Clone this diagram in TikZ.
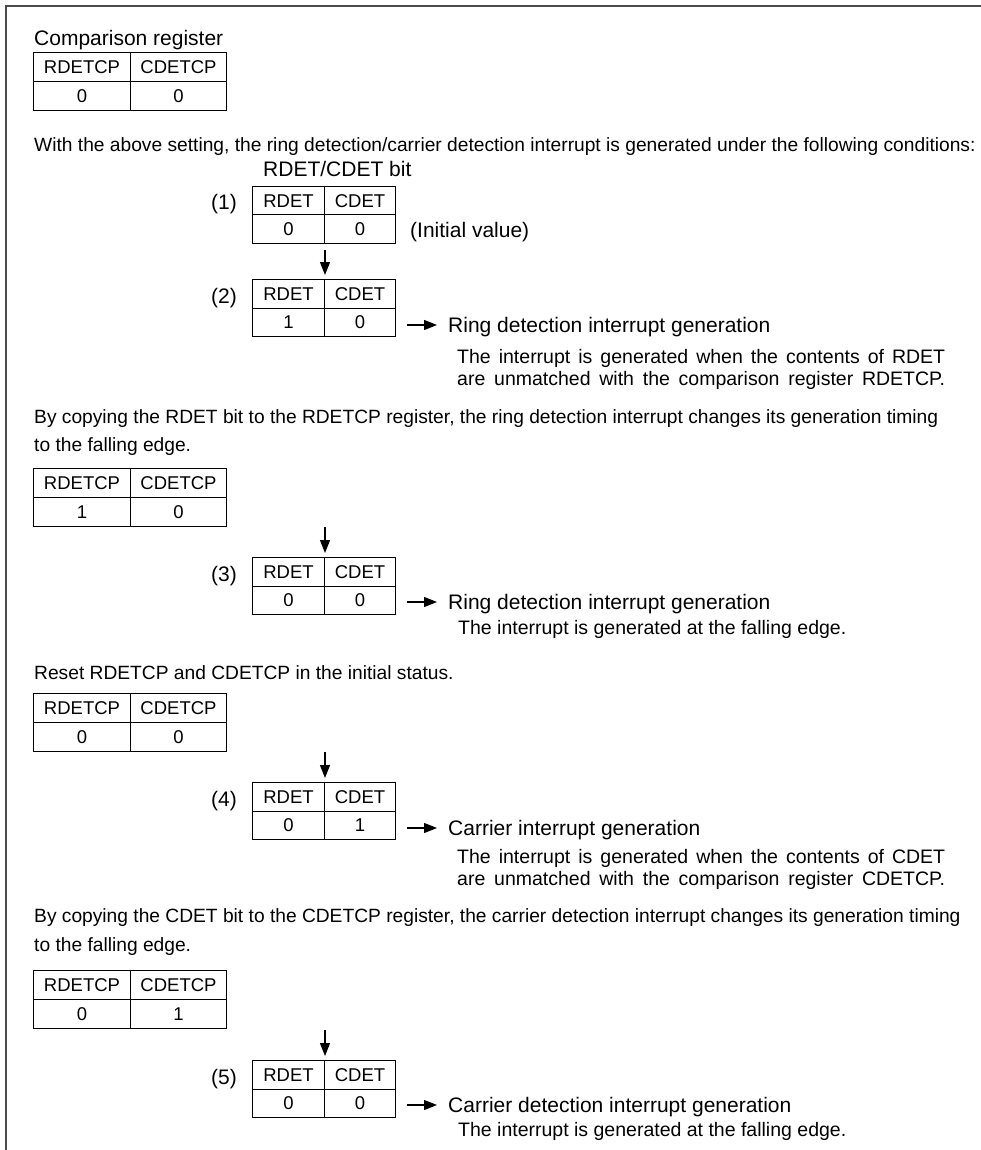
\documentclass[tikz,border=0pt]{standalone}
\usepackage{fontspec}
\setmainfont{Liberation Sans}
\usetikzlibrary{arrows.meta,calc}
\begin{document}
\begin{tikzpicture}[x=1pt,y=-1pt,
  frame/.style={draw=black!70, line width=2pt},
  cell/.style={draw, line width=1pt, inner sep=0pt, anchor=north west,
    font=\fontsize{18.5}{22}\selectfont},
  cpa/.style={cell, minimum width=97pt, minimum height=29pt},
  cpb/.style={cell, minimum width=96pt, minimum height=29pt},
  bta/.style={cell, minimum width=72pt, minimum height=28.5pt},
  btb/.style={cell, minimum width=71pt, minimum height=28.5pt},
  lbl/.style={anchor=base west, inner sep=0pt, font=\fontsize{21}{25}\selectfont},
  num/.style={anchor=base east, inner sep=0pt, font=\fontsize{21}{25}\selectfont},
  body/.style={anchor=base west, inner sep=0pt, font=\fontsize{19.2}{23}\selectfont},
  sub/.style={anchor=base west, inner sep=0pt, font=\fontsize{19.5}{23}\selectfont},
  darr/.style={line width=1.1pt, -{Triangle[length=13pt,width=10pt]}, shorten >=4pt},
  rarr/.style={line width=1.1pt, -{Triangle[length=13pt,width=10pt]}}
]
\useasboundingbox (0,0) rectangle (981,1150);
\draw[frame] (6,1150) -- (6,6) -- (981,6);

% ---- comparison register
\node[lbl] (title) at (34,46) {Comparison register};
\node[cpa] (t0a) at (33,52) {RDETCP};
\node[cpb] (t0b) at (130,52) {CDETCP};
\node[cpa] (t0c) at (33,81) {0};
\node[cpb] (t0d) at (130,81) {0};

\node[body] (p1) at (34,152) {With the above setting, the ring detection/carrier detection interrupt is generated under the following conditions:};

% ---- (1)
\node[lbl] (bitlbl) at (263,177) {RDET/CDET bit};
\node[bta] (b1a) at (252,186) {RDET};
\node[btb] (b1b) at (324,186) {CDET};
\node[bta] (b1c) at (252,214.5) {0};
\node[btb] (b1d) at (324,214.5) {0};
\node[num] (n1) at (237,210) {(1)};
\node[lbl] (iv) at (410,238) {(Initial value)};

% ---- (2)
\node[bta] (b2a) at (252,279) {RDET};
\node[btb] (b2b) at (324,279) {CDET};
\node[bta] (b2c) at (252,307.5) {1};
\node[btb] (b2d) at (324,307.5) {0};
\node[num] (n2) at (237,303) {(2)};
\coordinate (s2) at ($(b2a.north east)+(0,-29)$);
\draw[darr] (s2) -- (b2a.north east);
\coordinate (h2) at (407,325);
\coordinate (e2) at (437,325);
\draw[rarr] (h2) -- (e2);
\node[lbl] (r2) at (448,332) {Ring detection interrupt generation};
\node[sub] (r2s1) at (457,363) {\makebox[488pt][s]{The interrupt is generated when the contents of RDET}};
\node[sub] (r2s2) at (457,385) {\makebox[488pt][s]{are unmatched with the comparison register RDETCP.}};

\node[body] (p2) at (34,423) {By copying the RDET bit to the RDETCP register, the ring detection interrupt changes its generation timing};
\node[body] (p2b) at (34,451) {to the falling edge.};
\node[cpa] (t1a) at (33,468) {RDETCP};
\node[cpb] (t1b) at (130,468) {CDETCP};
\node[cpa] (t1c) at (33,497) {1};
\node[cpb] (t1d) at (130,497) {0};

% ---- (3)
\node[bta] (b3a) at (252,557) {RDET};
\node[btb] (b3b) at (324,557) {CDET};
\node[bta] (b3c) at (252,585.5) {0};
\node[btb] (b3d) at (324,585.5) {0};
\node[num] (n3) at (237,581) {(3)};
\coordinate (s3) at ($(b3a.north east)+(0,-30)$);
\draw[darr] (s3) -- (b3a.north east);
\coordinate (h3) at (407,602);
\coordinate (e3) at (437,602);
\draw[rarr] (h3) -- (e3);
\node[lbl] (r3) at (448,609) {Ring detection interrupt generation};
\node[sub] (r3s1) at (458,634) {The interrupt is generated at the falling edge.};

\node[body] (p3) at (34,679) {Reset RDETCP and CDETCP in the initial status.};
\node[cpa] (t2a) at (33,693) {RDETCP};
\node[cpb] (t2b) at (130,693) {CDETCP};
\node[cpa] (t2c) at (33,722) {0};
\node[cpb] (t2d) at (130,722) {0};

% ---- (4)
\node[bta] (b4a) at (252,782) {RDET};
\node[btb] (b4b) at (324,782) {CDET};
\node[bta] (b4c) at (252,810.5) {0};
\node[btb] (b4d) at (324,810.5) {1};
\node[num] (n4) at (237,806) {(4)};
\coordinate (s4) at ($(b4a.north east)+(0,-30)$);
\draw[darr] (s4) -- (b4a.north east);
\coordinate (h4) at (407,828);
\coordinate (e4) at (437,828);
\draw[rarr] (h4) -- (e4);
\node[lbl] (r4) at (448,835) {Carrier interrupt generation};
\node[sub] (r4s1) at (457,863) {\makebox[488pt][s]{The interrupt is generated when the contents of CDET}};
\node[sub] (r4s2) at (457,885) {\makebox[488pt][s]{are unmatched with the comparison register CDETCP.}};

\node[body] (p4) at (34,922) {By copying the CDET bit to the CDETCP register, the carrier detection interrupt changes its generation timing};
\node[body] (p4b) at (34,951) {to the falling edge.};
\node[cpa] (t3a) at (33,970) {RDETCP};
\node[cpb] (t3b) at (130,970) {CDETCP};
\node[cpa] (t3c) at (33,999) {0};
\node[cpb] (t3d) at (130,999) {1};

% ---- (5)
\node[bta] (b5a) at (252,1060) {RDET};
\node[btb] (b5b) at (324,1060) {CDET};
\node[bta] (b5c) at (252,1088.5) {0};
\node[btb] (b5d) at (324,1088.5) {0};
\node[num] (n5) at (237,1084) {(5)};
\coordinate (s5) at ($(b5a.north east)+(0,-30)$);
\draw[darr] (s5) -- (b5a.north east);
\coordinate (h5) at (407,1105);
\coordinate (e5) at (437,1105);
\draw[rarr] (h5) -- (e5);
\node[lbl] (r5) at (448,1112) {Carrier detection interrupt generation};
\node[sub] (r5s1) at (458,1136) {The interrupt is generated at the falling edge.};
\end{tikzpicture}
\end{document}
